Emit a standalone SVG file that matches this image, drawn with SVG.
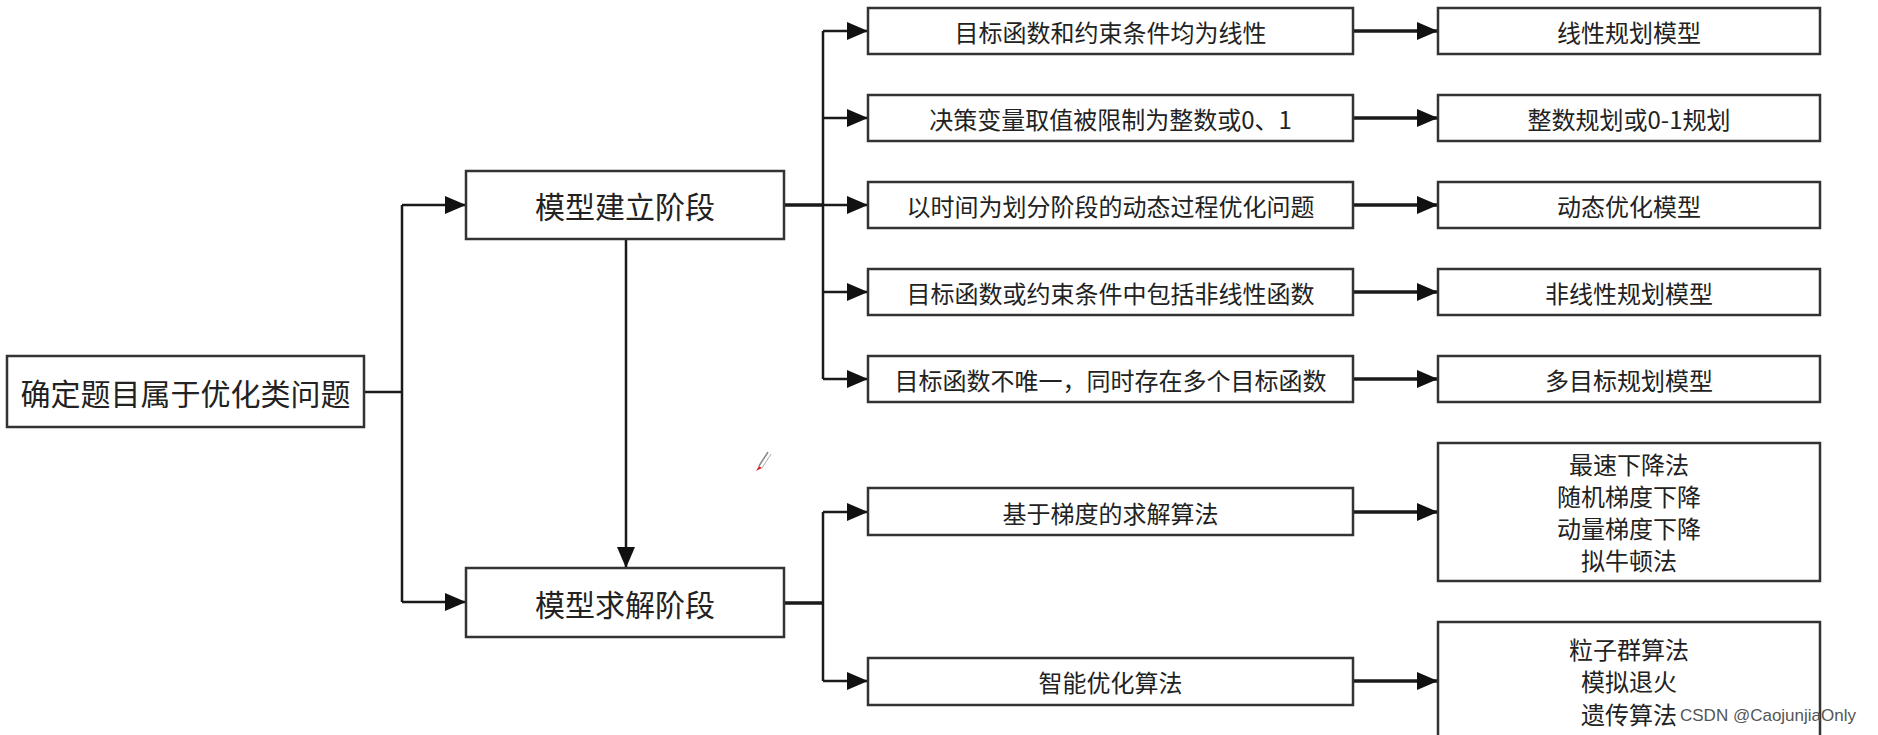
<svg xmlns="http://www.w3.org/2000/svg" width="1878" height="735" viewBox="0 0 1878 735">
<style>
.box{fill:#fff;stroke:#333;stroke-width:2.5}
.t{font-family:"Noto Sans CJK SC","Noto Sans",sans-serif;fill:#222;text-anchor:middle;dominant-baseline:central}
.big{font-size:30px}
.sm{font-size:24px}
.ln{fill:none;stroke:#1a1a1a;stroke-width:2.5}
.th{stroke-width:3.5}
.wm{font-family:"Liberation Sans",Arial,sans-serif;font-size:17px;fill:#555}
</style>
<defs>
<marker id="ah" markerUnits="userSpaceOnUse" markerWidth="22" markerHeight="18" refX="21" refY="9" orient="auto">
<path d="M0,0 L21,9 L0,18 Z" fill="#111"/>
</marker>
</defs>
<rect width="1878" height="735" fill="#fff"/>
<g id="connectors">
<path class="ln" d="M364,392 H402"/>
<path class="ln" d="M402,205 V602"/>
<path class="ln" d="M402,205 H466" marker-end="url(#ah)"/>
<path class="ln" d="M402,602 H466" marker-end="url(#ah)"/>
<path class="ln" d="M626,239 V568" marker-end="url(#ah)"/>
<path class="ln th" d="M784,205 H823"/>
<path class="ln" d="M823,31 V379"/>
<path class="ln" d="M823,31 H868" marker-end="url(#ah)"/>
<path class="ln" d="M823,118 H868" marker-end="url(#ah)"/>
<path class="ln" d="M823,205 H868" marker-end="url(#ah)"/>
<path class="ln" d="M823,292 H868" marker-end="url(#ah)"/>
<path class="ln" d="M823,379 H868" marker-end="url(#ah)"/>
<path class="ln th" d="M1353,31 H1438" marker-end="url(#ah)"/>
<path class="ln th" d="M1353,118 H1438" marker-end="url(#ah)"/>
<path class="ln th" d="M1353,205 H1438" marker-end="url(#ah)"/>
<path class="ln th" d="M1353,292 H1438" marker-end="url(#ah)"/>
<path class="ln th" d="M1353,379 H1438" marker-end="url(#ah)"/>
<path class="ln th" d="M784,603 H823"/>
<path class="ln" d="M823,512 V681"/>
<path class="ln" d="M823,512 H868" marker-end="url(#ah)"/>
<path class="ln" d="M823,681 H868" marker-end="url(#ah)"/>
<path class="ln th" d="M1353,512 H1438" marker-end="url(#ah)"/>
<path class="ln th" d="M1353,681 H1438" marker-end="url(#ah)"/>
</g>
<g id="root"><rect class="box" x="7" y="356" width="357" height="71"/><text class="t big" x="185.5" y="392">确定题目属于优化类问题</text></g>
<g id="build"><rect class="box" x="466" y="171" width="318" height="68"/><text class="t big" x="625" y="205">模型建立阶段</text></g>
<g id="solve"><rect class="box" x="466" y="568" width="318" height="69"/><text class="t big" x="625" y="603">模型求解阶段</text></g>
<g id="c1"><rect class="box" x="868" y="8" width="485" height="46"/><text class="t sm" x="1110.5" y="31">目标函数和约束条件均为线性</text></g>
<g id="c2"><rect class="box" x="868" y="95" width="485" height="46"/><text class="t sm" x="1110.5" y="118">决策变量取值被限制为整数或0、1</text></g>
<g id="c3"><rect class="box" x="868" y="182" width="485" height="46"/><text class="t sm" x="1110.5" y="205">以时间为划分阶段的动态过程优化问题</text></g>
<g id="c4"><rect class="box" x="868" y="269" width="485" height="46"/><text class="t sm" x="1110.5" y="292">目标函数或约束条件中包括非线性函数</text></g>
<g id="c5"><rect class="box" x="868" y="356" width="485" height="46"/><text class="t sm" x="1110.5" y="379">目标函数不唯一，同时存在多个目标函数</text></g>
<g id="m1"><rect class="box" x="1438" y="8" width="382" height="46"/><text class="t sm" x="1629" y="31">线性规划模型</text></g>
<g id="m2"><rect class="box" x="1438" y="95" width="382" height="46"/><text class="t sm" x="1629" y="118">整数规划或0-1规划</text></g>
<g id="m3"><rect class="box" x="1438" y="182" width="382" height="46"/><text class="t sm" x="1629" y="205">动态优化模型</text></g>
<g id="m4"><rect class="box" x="1438" y="269" width="382" height="46"/><text class="t sm" x="1629" y="292">非线性规划模型</text></g>
<g id="m5"><rect class="box" x="1438" y="356" width="382" height="46"/><text class="t sm" x="1629" y="379">多目标规划模型</text></g>
<g id="s1"><rect class="box" x="868" y="488" width="485" height="47"/><text class="t sm" x="1110.5" y="512">基于梯度的求解算法</text></g>
<g id="s2"><rect class="box" x="868" y="658" width="485" height="47"/><text class="t sm" x="1110.5" y="681">智能优化算法</text></g>
<g id="a1"><rect class="box" x="1438" y="443" width="382" height="138"/>
<text class="t sm" x="1629" y="463">最速下降法</text>
<text class="t sm" x="1629" y="495">随机梯度下降</text>
<text class="t sm" x="1629" y="527">动量梯度下降</text>
<text class="t sm" x="1629" y="559">拟牛顿法</text></g>
<g id="a2"><rect class="box" x="1438" y="622" width="382" height="130"/>
<text class="t sm" x="1629" y="648">粒子群算法</text>
<text class="t sm" x="1629" y="680">模拟退火</text>
<text class="t sm" x="1629" y="713">遗传算法</text></g>
<text class="wm" x="1680" y="721">CSDN @CaojunjiaOnly</text>
<g id="cursor"><path d="M768,452 L759,466" stroke="#888" stroke-width="1.5" fill="none"/><path d="M771,454 L762,468" stroke="#aaa" stroke-width="1" fill="none"/><path d="M759,466 L756,471 L762,468 Z" fill="#d22"/></g>
</svg>
